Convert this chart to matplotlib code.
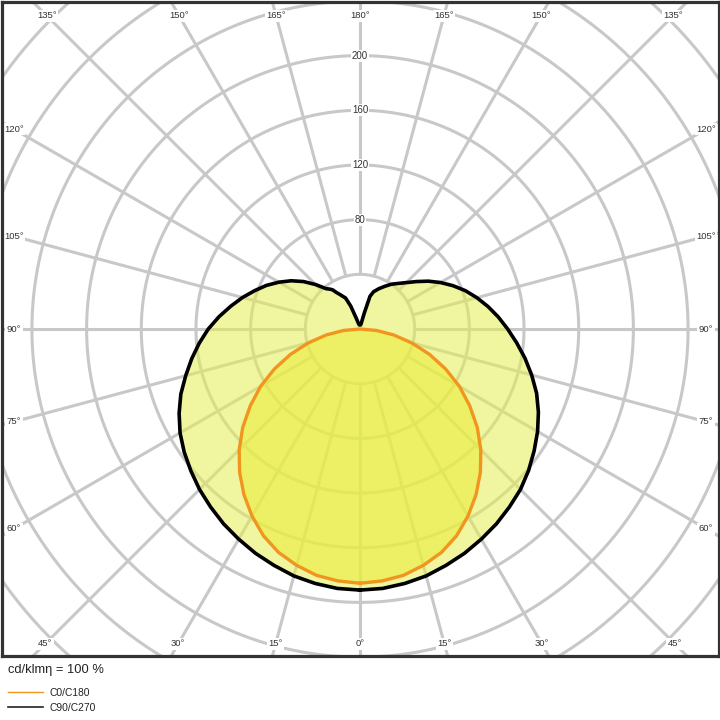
import numpy as np
import matplotlib
matplotlib.use("Agg")
import matplotlib.pyplot as plt
from matplotlib.lines import Line2D

plt.rcParams['font.family'] = ['Liberation Sans', 'DejaVu Sans']

# ---------------- data (cd/klm) ----------------
C0_ANGLES = [0, 5, 10, 15, 20, 25, 30, 35, 40, 45, 50, 55, 60, 65, 70, 75, 80, 85, 90, 180]
C0_VALUES = [186, 185, 183, 179, 174, 167, 158, 148, 137, 125, 112, 98, 84, 69, 54, 39, 25, 12, 0, 0]

C90_ANGLES = [0, 5, 10, 15, 20, 25, 30, 35, 40, 45, 50, 55, 60, 65, 70, 75, 80, 85, 90,
              95, 100, 105, 110, 115, 120, 125, 130, 135, 140, 145, 150, 155, 160, 163,
              165, 168, 172, 180]
C90_VALUES = [191, 190.5, 189, 187, 184, 181, 177.5, 174, 170, 166, 161, 155.5, 150, 144, 137.5,
              130, 122.5, 115, 108, 101.5, 95, 88.5, 82, 75, 68, 61, 54, 48, 43.5, 40, 36,
              32.5, 29, 25, 12, 4, 3, 3]

C270_ANGLES = [0, 5, 10, 15, 20, 25, 30, 35, 40, 45, 50, 55, 60, 65, 70, 75, 80, 85, 90,
               95, 100, 105, 110, 115, 120, 125, 130, 135, 140, 143, 145, 147, 150, 155,
               158, 161, 165, 170, 180]
C270_VALUES = [191, 190.5, 189, 187, 184, 181, 177.5, 174, 170, 166, 161.5, 157, 152, 146,
               139.5, 132, 125, 118, 111, 103.5, 96, 89, 82, 75.5, 68.5, 61.5, 54, 46, 38.5,
               36.5, 35, 32, 29, 25, 18, 8, 4, 3, 3]

RING_VALUES = [40, 80, 120, 160, 200, 240, 280, 320, 360, 400]
RING_LABELS = [80, 120, 160, 200]
SPOKE_ANGLES = list(range(0, 360, 15))
LABEL_ANGLES = list(range(-165, 181, 15))
LEGEND_NAMES = ["C0/C180", "C90/C270"]
FOOT_TEXT = "cd/klmη = 100 %"

# ---------------- styling ----------------
GRID = "#c8c8c8"
TXT = "#333333"
ORANGE = "#f0961e"
PX = 1.367  # pixels per cd

fig = plt.figure(figsize=(7.2, 7.2), dpi=100)
W = H = 720.0
left, right, top, bottom = 1.5, 718.5, 1.5, 655.5
ax = fig.add_axes([left / W, 1 - bottom / H, (right - left) / W, (bottom - top) / H])
cx, cy = 360.0, 329.0
ax.set_xlim(-(cx - left) / PX, (right - cx) / PX)
ax.set_ylim(-(bottom - cy) / PX, (cy - top) / PX)
ax.set_xticks([])
ax.set_yticks([])
for s in ax.spines.values():
    s.set_linewidth(2.3)
    s.set_color("#333333")
    s.set_zorder(10)

# grid circles
t = np.linspace(0, 2 * np.pi, 721)
for r in RING_VALUES:
    ax.plot(r * np.sin(t), r * np.cos(t), color=GRID, lw=2.2, zorder=1, solid_capstyle='butt')
# spokes
for a in SPOKE_ANGLES:
    th = np.radians(a)
    ax.plot([40 * np.sin(th), 420 * np.sin(th)], [-40 * np.cos(th), -420 * np.cos(th)],
            color=GRID, lw=2.2, zorder=1, solid_capstyle='butt')


def xy(angles, values, sign):
    th = np.radians(np.asarray(angles, float))
    v = np.asarray(values, float)
    return sign * v * np.sin(th), -v * np.cos(th)

# C90/C270 closed curve
xr, yr = xy(C90_ANGLES, C90_VALUES, 1)
xl, yl = xy(C270_ANGLES, C270_VALUES, -1)
bx = np.concatenate([xr, xl[::-1]])
by = np.concatenate([yr, yl[::-1]])
ax.fill(bx, by, color="#e4ed52", alpha=0.55, lw=0, zorder=2)

# C0/C180 closed curve
ox1, oy1 = xy(C0_ANGLES, C0_VALUES, 1)
ox2, oy2 = xy(C0_ANGLES, C0_VALUES, -1)
ox = np.concatenate([ox1, ox2[::-1]])
oy = np.concatenate([oy1, oy2[::-1]])
ax.fill(ox, oy, color="#ebee3c", alpha=0.6, lw=0, zorder=3)

ax.plot(bx, by, color="black", lw=2.6, zorder=4, solid_joinstyle='round')
ax.plot(ox, oy, color=ORANGE, lw=2.4, zorder=5, solid_joinstyle='round')

# radial labels
for r in RING_LABELS:
    ax.text(0, r, str(r), ha='center', va='center', fontsize=7, color=TXT, zorder=6,
            bbox=dict(boxstyle='square,pad=0.1', fc='white', ec='none'))

# angle labels
ytop = (cy - 16) / PX
ybot = -(644 - cy) / PX
xside = (706 - cx) / PX
for a in LABEL_ANGLES:
    th = np.radians(a)
    s, c = np.sin(th), -np.cos(th)
    aa = abs(a)
    if aa >= 135:
        tt = ytop / c
        px_, py_ = tt * s, ytop
    elif aa <= 45:
        tt = ybot / c
        px_, py_ = tt * s, ybot
    else:
        tt = xside / abs(s)
        px_, py_ = tt * s, tt * c
    ax.text(px_, py_, f"{aa}°", ha='center', va='center', fontsize=6.8, color=TXT, zorder=6,
            bbox=dict(boxstyle='square,pad=0.15', fc='white', ec='none'))

# footer
fig.text(8 / W, 1 - 670 / H, FOOT_TEXT, ha='left', va='center', fontsize=9.3, color="#222222")
for name, col, yy, lw in [(LEGEND_NAMES[0], ORANGE, 692, 1.0), (LEGEND_NAMES[1], "#222222", 707, 1.2)]:
    fig.add_artist(Line2D([8 / W, 43 / W], [1 - yy / H, 1 - yy / H], color=col, lw=lw,
                          transform=fig.transFigure))
    fig.text(50 / W, 1 - (yy + 1) / H, name, ha='left', va='center', fontsize=7.4, color="#222222")

fig.savefig("out.png", dpi=100, facecolor="white")
